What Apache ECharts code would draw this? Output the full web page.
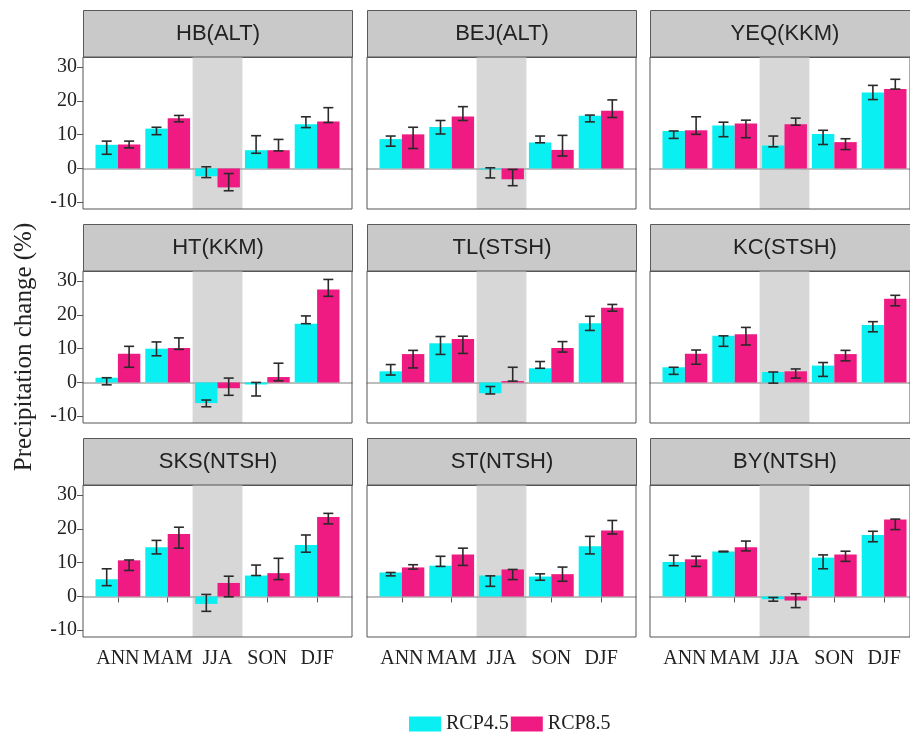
<!DOCTYPE html>
<html>
<head>
<meta charset="utf-8">
<script src="https://cdn.jsdelivr.net/npm/echarts@6/dist/echarts.min.js"></script>
<style>
  html, body { margin: 0; padding: 0; background: #ffffff; }
  #chart { width: 910px; height: 732px; }
</style>
</head>
<body>
<div id="chart"></div>
<script>
// Seasons on the x axis and the nine stations (one panel each)
const seasons = ['ANN', 'MAM', 'JJA', 'SON', 'DJF'];
const stations = ['HB(ALT)', 'BEJ(ALT)', 'YEQ(KKM)',
                  'HT(KKM)', 'TL(STSH)', 'KC(STSH)',
                  'SKS(NTSH)', 'ST(NTSH)', 'BY(NTSH)'];
const scenarioNames = ['RCP4.5', 'RCP8.5'];
const yTicks = [-10, 0, 10, 20, 30];
const yTitle = 'Precipitation change (%)';

// RCP4.5 precipitation change (%), one row per station, columns follow seasons
const rcp45Mean = [
  [7.0, 11.8, -2.3, 5.4, 13.1],
  [8.7, 12.3, -0.3, 7.7, 15.6],
  [11.1, 12.7, 6.8, 10.2, 22.5],
  [1.4, 10.0, -6.1, -0.6, 17.4],
  [3.3, 11.6, -3.2, 4.2, 17.5],
  [4.5, 13.8, 3.1, 5.0, 17.0],
  [5.1, 14.6, -2.2, 6.2, 15.2],
  [7.1, 9.1, 6.2, 5.9, 14.9],
  [10.2, 13.3, -0.8, 11.5, 18.2]
];
const rcp45Low = [
  [4.2, 10.0, -2.7, 4.5, 12.1],
  [6.6, 10.2, -2.8, 7.6, 13.8],
  [8.9, 9.4, 6.4, 7.1, 20.4],
  [-0.7, 7.9, -7.2, -4.0, 17.4],
  [2.2, 8.3, -3.4, 4.2, 15.4],
  [2.4, 10.7, -0.2, 1.8, 15.0],
  [3.2, 12.6, -4.4, 6.2, 13.1],
  [6.1, 8.9, 3.0, 4.8, 12.6],
  [9.1, 13.2, -1.4, 8.2, 16.2]
];
const rcp45High = [
  [8.1, 12.2, 0.5, 9.7, 15.3],
  [9.6, 14.2, 0.2, 9.6, 15.8],
  [11.1, 13.7, 9.6, 11.3, 24.6],
  [1.4, 12.0, -5.2, 0.0, 19.7],
  [5.3, 13.6, -1.2, 6.2, 19.6],
  [4.5, 13.8, 3.1, 5.9, 18.0],
  [8.2, 16.6, 0.6, 9.3, 18.2],
  [7.1, 11.9, 6.1, 6.7, 17.8],
  [12.2, 13.4, -0.3, 12.3, 19.3]
];

// RCP8.5 precipitation change (%)
const rcp85Mean = [
  [7.1, 14.9, -5.6, 5.4, 13.9],
  [10.1, 15.4, -3.2, 5.5, 17.1],
  [11.3, 13.3, 13.1, 7.8, 23.5],
  [8.5, 10.2, -1.7, 1.6, 27.5],
  [8.4, 12.9, 0.4, 10.2, 22.1],
  [8.5, 14.3, 3.3, 8.4, 24.8],
  [10.7, 18.5, 4.0, 6.9, 23.5],
  [8.6, 12.4, 8.0, 6.6, 19.5],
  [11.0, 14.6, -1.2, 12.4, 22.8]
];
const rcp85Low = [
  [6.1, 13.8, -6.6, 5.2, 13.6],
  [5.9, 14.2, -5.1, 3.7, 15.1],
  [10.1, 9.1, 12.8, 5.6, 23.5],
  [4.5, 9.8, -3.8, 0.5, 25.5],
  [4.3, 8.6, 0.4, 9.0, 21.1],
  [5.4, 11.1, 1.3, 6.4, 22.7],
  [7.7, 14.3, -0.1, 5.0, 21.5],
  [8.1, 9.2, 5.0, 4.5, 18.5],
  [8.9, 13.5, -3.3, 10.4, 19.8]
];
const rcp85High = [
  [8.1, 15.7, -1.5, 8.6, 18.0],
  [12.2, 18.3, -0.3, 9.8, 20.3],
  [15.3, 14.3, 14.9, 8.8, 26.4],
  [10.7, 13.2, 1.3, 5.7, 30.5],
  [9.5, 13.7, 4.5, 12.1, 23.1],
  [9.6, 16.3, 4.0, 9.5, 25.8],
  [10.8, 20.5, 6.0, 11.3, 24.6],
  [9.4, 14.3, 8.0, 8.7, 22.5],
  [11.9, 16.4, 0.8, 13.4, 22.9]
];

// Panel layout
const colLeft = [83, 367, 650];
const rowTop = [10, 224, 438];
const panelW = 269, stripH = 47, plotH = 152, sidePad = 10;
const Y_MIN = -12, Y_MAX = 33;
const COLORS = ['#0af0f2', '#ef1a82'];
const SERIF = 'Liberation Serif';
const SANS = 'Liberation Sans';
const shadeSeason = 'JJA';

function errorBarRenderer(side) {
  return function (params, api) {
    const idx = api.value(0);
    const lo = api.value(1), hi = api.value(2);
    const band = api.size([1, 0])[0];
    const x = api.coord([idx, 0])[0] + side * band * 0.225;
    const yLo = api.coord([idx, lo])[1];
    const yHi = api.coord([idx, hi])[1];
    const cap = 5;
    const style = { stroke: '#2a2a2a', lineWidth: 1.6 };
    return {
      type: 'group',
      children: [
        { type: 'line', shape: { x1: x, y1: yLo, x2: x, y2: yHi }, style },
        { type: 'line', shape: { x1: x - cap, y1: yLo, x2: x + cap, y2: yLo }, style },
        { type: 'line', shape: { x1: x - cap, y1: yHi, x2: x + cap, y2: yHi }, style }
      ]
    };
  };
}

function shadeRenderer(params, api) {
  const idx = api.value(0);
  const band = api.size([1, 0])[0];
  const cx = api.coord([idx, 0])[0];
  const cs = params.coordSys;
  return {
    type: 'rect',
    shape: { x: cx - band / 2, y: cs.y, width: band, height: cs.height },
    style: { fill: '#d7d7d7' }
  };
}

const grid = [], xAxis = [], yAxis = [], series = [], graphic = [];

stations.forEach(function (name, s) {
  const r = Math.floor(s / 3), c = s % 3;
  const left = colLeft[c];
  const top = rowTop[r] + stripH;
  const firstCol = c === 0;
  const bottomRow = r === 2;

  // frame grid (border, zero line, y ticks)
  grid.push({ left: left, top: top, width: panelW, height: plotH, show: true,
              borderColor: '#555', borderWidth: 1, backgroundColor: 'transparent', z: 3 });
  // bar grid (inset so the categories sit inside the frame)
  grid.push({ left: left + sidePad, top: top, width: panelW - 2 * sidePad, height: plotH });

  const g0 = 2 * s, g1 = 2 * s + 1;

  xAxis.push({
    gridIndex: g0, type: 'value', min: 0, max: 1, z: 1.5,
    axisLine: { show: true, onZero: true, lineStyle: { color: '#a8a8a8', width: 1.5 } },
    axisTick: { show: false }, axisLabel: { show: false }, splitLine: { show: false }
  });
  xAxis.push({
    gridIndex: g1, type: 'category', data: seasons,
    axisLine: { show: false },
    axisTick: { show: bottomRow, alignWithLabel: true, length: 6, lineStyle: { color: '#555' } },
    axisLabel: { show: bottomRow, interval: 0, margin: 12, fontFamily: SERIF, fontSize: 20, color: '#222' },
    splitLine: { show: false }
  });

  const frameY = {
    gridIndex: g0, type: 'value', min: Y_MIN, max: Y_MAX,
    axisLine: { show: false },
    axisTick: { show: firstCol, customValues: yTicks, length: 6, lineStyle: { color: '#555' } },
    axisLabel: { show: firstCol, customValues: yTicks, margin: 6, fontFamily: SERIF, fontSize: 20, color: '#222' },
    splitLine: { show: false }
  };
  if (s === 3) {
    frameY.name = yTitle;
    frameY.nameLocation = 'middle';
    frameY.nameGap = 46;
    frameY.nameTextStyle = { fontFamily: SERIF, fontSize: 25, color: '#222' };
  }
  yAxis.push(frameY);
  yAxis.push({ gridIndex: g1, type: 'value', min: Y_MIN, max: Y_MAX, show: false });

  series.push({
    type: 'custom', xAxisIndex: g1, yAxisIndex: g1, z: 1, silent: true,
    renderItem: shadeRenderer, data: [[shadeSeason]]
  });

  const means = [rcp45Mean[s], rcp85Mean[s]];
  const lows = [rcp45Low[s], rcp85Low[s]];
  const highs = [rcp45High[s], rcp85High[s]];

  [0, 1].forEach(function (k) {
    series.push({
      name: scenarioNames[k], type: 'bar', xAxisIndex: g1, yAxisIndex: g1, z: 2,
      data: means[k], barGap: '0%', barCategoryGap: '10%',
      itemStyle: { color: COLORS[k] }
    });
  });
  [0, 1].forEach(function (k) {
    series.push({
      type: 'custom', xAxisIndex: g1, yAxisIndex: g1, z: 3, silent: true,
      renderItem: errorBarRenderer(k === 0 ? -1 : 1),
      data: seasons.map(function (sn, i) { return [sn, lows[k][i], highs[k][i]]; })
    });
  });

  // strip header
  graphic.push({
    type: 'group', left: left, top: rowTop[r],
    children: [
      { type: 'rect', shape: { x: 0, y: 0, width: panelW, height: stripH },
        style: { fill: '#c9c9c9', stroke: '#5a5a5a', lineWidth: 1 } },
      { type: 'text', x: panelW / 2, y: stripH / 2,
        style: { text: name, fill: '#222', font: '22px "' + SANS + '"', align: 'center', verticalAlign: 'middle' } }
    ]
  });
});

const chart = echarts.init(document.getElementById('chart'), null, { renderer: 'canvas' });
chart.setOption({
  animation: false,
  backgroundColor: '#ffffff',
  grid: grid,
  xAxis: xAxis,
  yAxis: yAxis,
  series: series,
  graphic: graphic,
  legend: {
    data: scenarioNames, left: 404, top: 709,
    icon: 'rect', itemWidth: 32, itemHeight: 15, itemGap: 2,
    textStyle: { fontFamily: SERIF, fontSize: 20, color: '#222' }
  }
});
</script>
</body>
</html>
